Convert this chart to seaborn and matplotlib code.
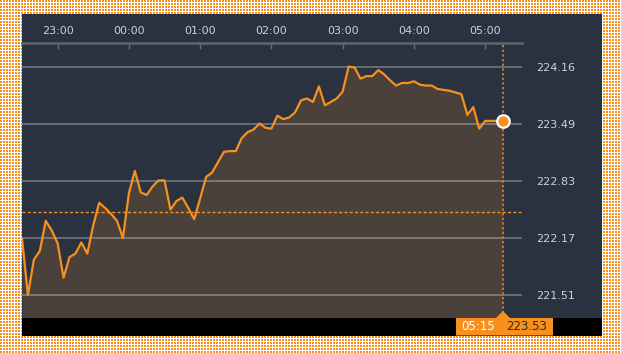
import numpy as np
import pandas as pd
import matplotlib
matplotlib.use("Agg")
import matplotlib.pyplot as plt
from matplotlib.patches import Rectangle, Polygon
import seaborn as sns

# ---- data (5-minute prices, 22:30 -> 05:15) ----
prices = [
    222.17, 221.51, 221.92, 222.02, 222.37, 222.26, 222.11, 221.71, 221.95, 221.99,
    222.12, 221.99, 222.32, 222.58, 222.52, 222.45, 222.37, 222.17, 222.69, 222.95,
    222.70, 222.67, 222.77, 222.84, 222.84, 222.50, 222.60, 222.64, 222.52, 222.39,
    222.63, 222.88, 222.93, 223.05, 223.17, 223.18, 223.18, 223.33, 223.40, 223.43,
    223.50, 223.45, 223.44, 223.59, 223.55, 223.57, 223.63, 223.77, 223.79, 223.75,
    223.93, 223.71, 223.75, 223.79, 223.87, 224.16, 224.15, 224.02, 224.05, 224.05,
    224.12, 224.07, 224.00, 223.94, 223.97, 223.97, 223.99, 223.95, 223.94, 223.94,
    223.90, 223.89, 223.88, 223.86, 223.84, 223.60, 223.69, 223.44, 223.53, 223.53,
    223.53, 223.53,
]
minutes = [5 * i for i in range(len(prices))]  # minutes after 22:30
hour_labels = ["23:00", "00:00", "01:00", "02:00", "03:00", "04:00", "05:00"]
hour_minutes = [30, 90, 150, 210, 270, 330, 390]
y_ticks = [221.51, 222.17, 222.83, 223.49, 224.16]
prev_close = 222.47
last_time_label = "05:15"
last_price_label = "223.53"

df = pd.DataFrame({"minute": minutes, "price": prices})

# ---- style ----
sns.set_style("dark")
plt.rcParams["font.family"] = ["DejaVu Sans"]

W, H = 621, 353
fig = plt.figure(figsize=(W / 100, H / 100), dpi=100)

ORANGE = "#f7901e"
PANEL = "#29323e"
FILL = "#4a413b"
TEXT = "#c9d1da"

# dotted orange background
yy, xx = np.mgrid[0:H, 0:W]
mask = ((xx % 3) != 2) & ((yy % 3) != 2)
pattern = np.ones((H, W, 3))
pattern[mask] = np.array([247, 144, 30]) / 255.0
ax_bg = fig.add_axes([0, 0, 1, 1], zorder=-3)
ax_bg.imshow(pattern, interpolation="nearest", aspect="auto")
ax_bg.set_axis_off()

def fx(px):
    return px / W

def fy(py):
    return 1 - py / H

# dark panel
fig.add_artist(Rectangle((fx(22), fy(336)), fx(580), 322 / H, transform=fig.transFigure,
                         facecolor=PANEL, edgecolor="none", zorder=-2))

# main axes
ax = fig.add_axes([fx(22), fy(318), fx(500), 275 / H], zorder=0)
ax.set_facecolor(PANEL)
xmax = 421
ymin, ymax = 221.243, 224.434
ax.set_xlim(0, xmax)
ax.set_ylim(ymin, ymax)

ax.fill_between(df["minute"], df["price"], ymin, color=FILL, linewidth=0, zorder=1)
sns.lineplot(data=df, x="minute", y="price", ax=ax, color=ORANGE, linewidth=1.6,
             zorder=4, legend=False)

# grid lines
for v in y_ticks:
    ax.axhline(v, color="white", alpha=0.3, linewidth=1.3, zorder=2)

# previous close dashed line
ax.axhline(prev_close, color=ORANGE, linewidth=1.0, dashes=(2.2, 1.6), zorder=3)

# vertical dotted line at last point
ax.axvline(minutes[-1], color="#d9822b", linewidth=1.2, dashes=(1.4, 1.4), zorder=3)

# last point marker
ax.plot([minutes[-1]], [prices[-1]], marker="o", markersize=9, color=ORANGE,
        markeredgecolor="white", markeredgewidth=1.6, zorder=5, clip_on=False)

# axes styling
for s in ["left", "right", "bottom"]:
    ax.spines[s].set_visible(False)
ax.spines["top"].set_visible(True)
ax.spines["top"].set_color("#5f656d")
ax.spines["top"].set_linewidth(1.8)
ax.xaxis.tick_top()
ax.set_xticks(hour_minutes)
ax.set_xticklabels(hour_labels)
ax.tick_params(axis="x", direction="in", length=4, width=1, color="#6b7078",
               labelsize=8, labelcolor=TEXT, pad=5)
ax.yaxis.tick_right()
ax.set_yticks(y_ticks)
ax.set_yticklabels([f"{v:.2f}" for v in y_ticks])
ax.tick_params(axis="y", length=0, labelsize=8, labelcolor=TEXT, pad=10)
ax.set_xlabel("")
ax.set_ylabel("")
ax.grid(False)

# bottom black bar
fig.add_artist(Rectangle((fx(22), fy(336)), fx(580), 18 / H, transform=fig.transFigure,
                         facecolor="black", edgecolor="none", zorder=1))
# orange price box with pointer
tip_x = 22 + minutes[-1] / xmax * 500
box = Polygon([(fx(456), fy(335.5)), (fx(553), fy(335.5)), (fx(553), fy(318)),
               (fx(tip_x + 7), fy(318)), (fx(tip_x), fy(311)), (fx(tip_x - 7), fy(318)),
               (fx(456), fy(318))], closed=True, transform=fig.transFigure,
              facecolor=ORANGE, edgecolor="none", zorder=2)
fig.add_artist(box)
fig.text(fx(478), fy(327), last_time_label, color="white", fontsize=8.5,
         ha="center", va="center", zorder=3)
fig.text(fx(527), fy(327), last_price_label, color="#3b2812", fontsize=8.5,
         ha="center", va="center", zorder=3)

fig.savefig("out.png", dpi=100)
